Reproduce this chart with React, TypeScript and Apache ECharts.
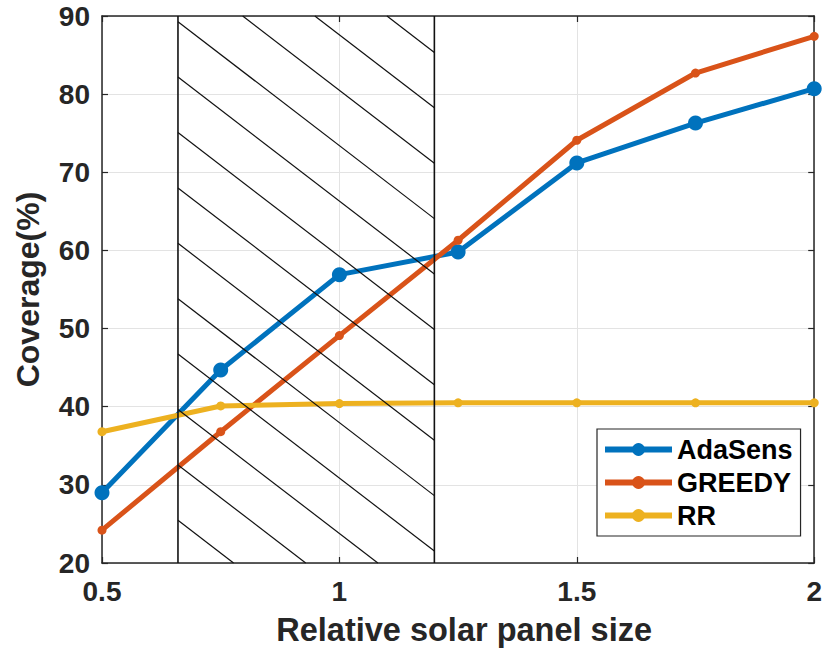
import React, { useEffect, useRef } from "react";
import * as echarts from "echarts";

const X_VALUES = [0.5, 0.75, 1, 1.25, 1.5, 1.75, 2];
const ADASENS = [29.0, 44.7, 56.9, 59.8, 71.2, 76.3, 80.7];
const GREEDY = [24.2, 36.8, 49.1, 61.3, 74.1, 82.7, 87.4];
const RR = [36.8, 40.1, 40.4, 40.5, 40.5, 40.5, 40.5];
const SERIES_NAMES = ["AdaSens", "GREEDY", "RR"];
const X_MIN = 0.5;
const X_MAX = 2;
const X_INTERVAL = 0.5;
const Y_MIN = 20;
const Y_MAX = 90;
const Y_INTERVAL = 10;
const X_TICK_LABELS = ["0.5", "1", "1.5", "2"];
const HATCH_RANGE = [0.66, 1.2];
const X_NAME = "Relative solar panel size";
const Y_NAME = "Coverage(%)";

const FONT = "'Liberation Sans', Arial, Helvetica, sans-serif";
const TEXT_COLOR = "#262626";
const COLORS = ["#0072BD", "#D95319", "#EDB120"];

export default function App() {
  const ref = useRef<HTMLDivElement>(null);
  useEffect(() => {
    if (!ref.current) return;
    const chart = echarts.init(ref.current, undefined, { renderer: "svg" });
    const pair = (ys: number[]) => X_VALUES.map((x, i) => [x, ys[i]]);
    const axisLine = { show: true, lineStyle: { color: TEXT_COLOR, width: 1.5 } };
    const tick = { show: true, inside: true, length: 6, lineStyle: { color: TEXT_COLOR, width: 1.2 } };
    const mkLine = (name: string, ys: number[], color: string, size: number) => ({
      type: "line",
      name,
      data: pair(ys),
      symbol: "circle",
      symbolSize: size,
      showSymbol: true,
      lineStyle: { color, width: 5 },
      itemStyle: { color },
      z: 2,
    });
    const option: any = {
      animation: false,
      backgroundColor: "#ffffff",
      grid: { left: 102, right: 8, top: 16, bottom: 97, containLabel: false },
      xAxis: [
        {
          type: "value",
          min: X_MIN,
          max: X_MAX,
          interval: X_INTERVAL,
          position: "bottom",
          axisLine,
          axisTick: tick,
          splitLine: { show: true, lineStyle: { color: "#e3e3e3", width: 1 } },
          axisLabel: {
            fontFamily: FONT,
            fontWeight: "bold",
            fontSize: 28,
            color: TEXT_COLOR,
            margin: 14,
            formatter: (v: number) => {
              const idx = Math.round((v - X_MIN) / X_INTERVAL);
              return X_TICK_LABELS[idx] ?? String(v);
            },
          },
          name: X_NAME,
          nameLocation: "middle",
          nameGap: 50,
          nameTextStyle: {
            fontFamily: FONT,
            fontWeight: "bold",
            fontSize: 32.5,
            color: TEXT_COLOR,
            padding: [0, 0, 0, 12],
          },
        },
        {
          type: "value",
          min: X_MIN,
          max: X_MAX,
          interval: X_INTERVAL,
          position: "top",
          axisLine,
          axisTick: tick,
          splitLine: { show: false },
          axisLabel: { show: false },
        },
      ],
      yAxis: [
        {
          type: "value",
          min: Y_MIN,
          max: Y_MAX,
          interval: Y_INTERVAL,
          position: "left",
          axisLine,
          axisTick: tick,
          splitLine: { show: true, lineStyle: { color: "#e3e3e3", width: 1 } },
          axisLabel: {
            fontFamily: FONT,
            fontWeight: "bold",
            fontSize: 28,
            color: TEXT_COLOR,
            margin: 12,
          },
          name: Y_NAME,
          nameLocation: "middle",
          nameGap: 58,
          nameTextStyle: { fontFamily: FONT, fontWeight: "bold", fontSize: 32, color: TEXT_COLOR },
        },
        {
          type: "value",
          min: Y_MIN,
          max: Y_MAX,
          interval: Y_INTERVAL,
          position: "right",
          axisLine,
          axisTick: tick,
          splitLine: { show: false },
          axisLabel: { show: false },
        },
      ],
      legend: {
        orient: "vertical",
        left: 597,
        top: 429,
        data: SERIES_NAMES,
        backgroundColor: "#ffffff",
        borderColor: TEXT_COLOR,
        borderWidth: 1.2,
        padding: [7, 8, 7, 5],
        itemWidth: 67,
        itemHeight: 16,
        itemGap: 6,
        lineStyle: { width: 6 },
        textStyle: { fontFamily: FONT, fontWeight: "bold", fontSize: 27, color: "#000000" },
      },
      series: [
        mkLine(SERIES_NAMES[0], ADASENS, COLORS[0], 15),
        mkLine(SERIES_NAMES[1], GREEDY, COLORS[1], 9),
        mkLine(SERIES_NAMES[2], RR, COLORS[2], 9),
        {
          type: "custom",
          silent: true,
          z: 3,
          data: [[HATCH_RANGE[0], HATCH_RANGE[1]]],
          encode: { x: [0, 1] },
          renderItem: (params: any, api: any) => {
            const p0 = api.coord([api.value(0), Y_MAX]);
            const p1 = api.coord([api.value(1), Y_MIN]);
            const xL = p0[0], yT = p0[1], xR = p1[0], yB = p1[1];
            const slope = 0.768;
            const spacing = 55.4;
            const phase = 5.7;
            const children: any[] = [];
            const kMin = -Math.ceil((slope * (xR - xL)) / spacing) - 2;
            const kMax = Math.ceil((yB - yT) / spacing) + 2;
            for (let k = kMin; k <= kMax; k++) {
              const c = yT + phase + k * spacing;
              const xs = Math.max(xL, xL + (yT - c) / slope);
              const xe = Math.min(xR, xL + (yB - c) / slope);
              if (xe > xs + 0.5) {
                children.push({
                  type: "line",
                  shape: { x1: xs, y1: c + slope * (xs - xL), x2: xe, y2: c + slope * (xe - xL) },
                  style: { stroke: "#111111", lineWidth: 1.2 },
                });
              }
            }
            children.push({
              type: "line",
              shape: { x1: xL, y1: yT, x2: xL, y2: yB },
              style: { stroke: "#111111", lineWidth: 1.6 },
            });
            children.push({
              type: "line",
              shape: { x1: xR, y1: yT, x2: xR, y2: yB },
              style: { stroke: "#111111", lineWidth: 1.6 },
            });
            return { type: "group", children };
          },
        },
      ],
    };
    chart.setOption(option);
    return () => chart.dispose();
  }, []);
  return (
    <div
      ref={ref}
      style={{ position: "fixed", left: 0, top: 0, width: 825, height: 660, background: "#fff" }}
    />
  );
}
